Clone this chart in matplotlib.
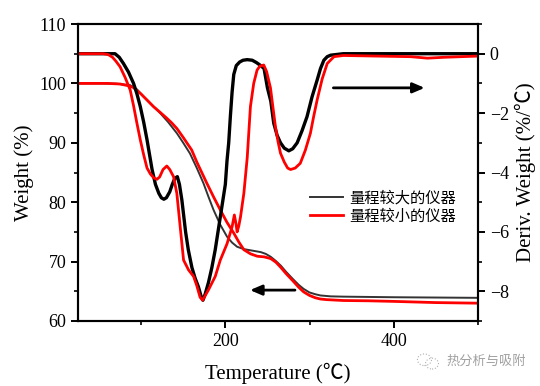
import matplotlib
matplotlib.use('Agg')
import matplotlib.pyplot as plt
from matplotlib.ticker import MultipleLocator
from matplotlib.patches import Ellipse

# TG curves (weight %)
tg_black_t = [25, 51, 70, 87, 95, 102.8, 112, 122.6, 132, 142.5, 150, 158, 166, 174, 180, 186, 194,
              202, 208, 214, 222, 234, 242, 248, 254, 260, 266, 272, 280, 287, 293, 300, 307, 313,
              325, 340, 370, 400, 450, 500]
tg_black_w = [100, 100, 99.95, 99.7, 99.0, 97.8, 96.5, 95.0, 93.5, 91.6, 90.0, 88.2, 85.8, 83.2, 80.9,
              78.7, 76.2, 74.2, 73.2, 72.5, 72.1, 71.8, 71.6, 71.3, 70.8, 70.1, 69.3, 68.3, 67.1,
              66.1, 65.4, 64.8, 64.5, 64.3, 64.15, 64.1, 64.05, 64.0, 63.95, 63.9]

tg_red_t = [25, 60, 75, 85, 91, 100, 107, 114.6, 122, 130, 136, 142.5, 150, 160, 166, 172, 178, 186,
            194, 202, 210, 216, 222, 230, 238, 246, 254, 260, 266, 272, 280, 287, 293, 300, 307,
            313, 320, 340, 370, 400, 450, 500]
tg_red_w = [100, 100, 99.9, 99.6, 99.3, 98.2, 97.2, 96.1, 95.2, 94.2, 93.4, 92.4, 90.9, 88.8, 86.8,
            85.0, 83.2, 80.9, 78.7, 76.6, 74.8, 73.3, 72.0, 71.3, 70.9, 70.8, 70.5, 69.9, 69.0,
            68.0, 66.8, 65.7, 64.9, 64.3, 63.9, 63.7, 63.6, 63.45, 63.4, 63.3, 63.1, 63.0]

# DTG curves (%/C)
dtg_black_t = [25, 50, 69, 74, 79, 85, 91, 95, 99, 103, 107, 110, 113, 117, 121, 124, 127, 130, 134,
               137, 140, 143, 145.5, 148.4, 152.8, 156, 160.3, 164, 168, 171, 173.4, 176, 180, 184,
               188, 194, 200, 202, 204, 206, 208, 210, 213, 217, 221, 226, 232, 237, 242, 246, 250,
               254, 257.5, 261.5, 265.5, 270, 275.4, 280, 285.3, 291, 297, 303, 309, 313, 317, 321,
               325, 340, 380, 420, 460, 500]
dtg_black_d = [0, 0, 0, -0.12, -0.33, -0.62, -1.0, -1.35, -1.78, -2.3, -2.9, -3.4, -3.9, -4.4, -4.7,
               -4.85, -4.9, -4.85, -4.65, -4.4, -4.2, -4.14, -4.4, -4.93, -6.0, -6.6, -7.2, -7.55,
               -7.85, -8.15, -8.3, -8.1, -7.7, -7.2, -6.6, -5.5, -4.4, -3.6, -3.0, -2.1, -1.3, -0.7,
               -0.4, -0.28, -0.22, -0.2, -0.22, -0.3, -0.4, -0.5, -1.15, -1.6, -2.34, -2.75, -3.0,
               -3.18, -3.27, -3.2, -3.0, -2.6, -2.12, -1.45, -0.89, -0.5, -0.22, -0.1, -0.05, 0, 0,
               0, 0, 0]

dtg_red_t = [25, 55, 61, 66, 70, 75, 81, 87, 91, 95, 99, 103, 107, 111, 115, 118.7, 122, 126, 130.5,
             134, 138.5, 142.4, 146.4, 150.4, 156.3, 162.3, 166, 170, 173, 176, 180, 188, 194, 202,
             208, 210.7, 212.5, 214, 216, 218, 222, 226, 229.8, 233.7, 237.7, 241, 245.6, 249,
             253.6, 256.5, 259.5, 262.5, 265.5, 270, 274, 277.4, 283, 289, 295, 301, 305, 309, 315,
             321, 329, 340, 380, 420, 440, 460, 500]
dtg_red_d = [0, 0, -0.03, -0.12, -0.25, -0.44, -0.8, -1.22, -1.75, -2.34, -2.9, -3.4, -3.85, -4.05,
             -4.18, -4.23, -4.15, -3.9, -3.78, -3.9, -4.14, -4.7, -5.83, -6.95, -7.28, -7.5, -7.8,
             -8.2, -8.3, -8.15, -7.95, -7.5, -6.95, -6.4, -5.83, -5.43, -5.7, -6.0, -5.8, -5.5,
             -4.7, -3.5, -1.78, -1.0, -0.55, -0.42, -0.38, -0.6, -1.15, -1.8, -2.46, -2.95, -3.35,
             -3.65, -3.85, -3.9, -3.85, -3.69, -3.25, -2.68, -2.1, -1.56, -0.85, -0.33, -0.1,
             -0.06, -0.08, -0.1, -0.15, -0.12, -0.08]

labels = ['量程较大的仪器', '量程较小的仪器']

serif = ['Liberation Serif', 'Noto Sans CJK SC']
plt.rcParams['font.family'] = serif

fig = plt.figure(figsize=(5.4, 3.86), dpi=100)
ax = fig.add_axes([0.1444, 0.1684, 0.7407, 0.7694])
ax2 = ax.twinx()

l1, = ax.plot(tg_black_t, tg_black_w, color='#333333', lw=1.4)
l2, = ax.plot(tg_red_t, tg_red_w, color='red', lw=2.0)
ax2.plot(dtg_black_t, dtg_black_d, color='black', lw=2.4)
ax2.plot(dtg_red_t, dtg_red_d, color='red', lw=2.0)

ax.set_xlim(25, 500)
ax.set_ylim(60, 110)
ax2.set_ylim(-9, 1)

ax.xaxis.set_major_locator(MultipleLocator(200))
ax.xaxis.set_minor_locator(MultipleLocator(100))
ax.yaxis.set_major_locator(MultipleLocator(10))
ax.yaxis.set_minor_locator(MultipleLocator(5))
ax2.yaxis.set_major_locator(MultipleLocator(2))
ax2.yaxis.set_minor_locator(MultipleLocator(1))

for a in (ax, ax2):
    a.tick_params(which='major', direction='out', length=5, width=1.4, labelsize=13)
    a.tick_params(which='minor', direction='out', length=3, width=1.2)
    for s in a.spines.values():
        s.set_linewidth(1.5)

ax.set_xlabel('Temperature (℃)', fontsize=15, labelpad=9)
ax.set_ylabel('Weight (%)', fontsize=15)
ax2.set_ylabel('Deriv. Weight (%/℃)', fontsize=15)

# arrows pointing to the relevant axis
ax.annotate('', xy=(226, 65.2), xytext=(286, 65.2),
            arrowprops=dict(arrowstyle='-|>,head_length=0.7,head_width=0.3', color='black', lw=2))
ax2.annotate('', xy=(440, -1.15), xytext=(325, -1.15),
             arrowprops=dict(arrowstyle='-|>,head_length=0.7,head_width=0.3', color='black', lw=2))

ax2.legend([l1, l2], labels, loc='upper left', bbox_to_anchor=(0.56, 0.47), frameon=False,
           prop={'family': 'Noto Sans CJK SC', 'size': 11}, handlelength=2.2, handletextpad=0.4,
           borderpad=0, labelspacing=0.1)

# watermark
fig.text(0.826, 0.064, '热分析与吸附', fontsize=9.5, color='#a0a0a0', family='Noto Sans CJK SC',
         va='center')
fig.add_artist(Ellipse((0.786, 0.068), 0.026, 0.03, fill=False, ec='#b0b0b0', lw=0.8, ls=':'))
fig.add_artist(Ellipse((0.800, 0.058), 0.024, 0.028, fill=False, ec='#b0b0b0', lw=0.8, ls=':'))

fig.savefig('out.png', dpi=100)
